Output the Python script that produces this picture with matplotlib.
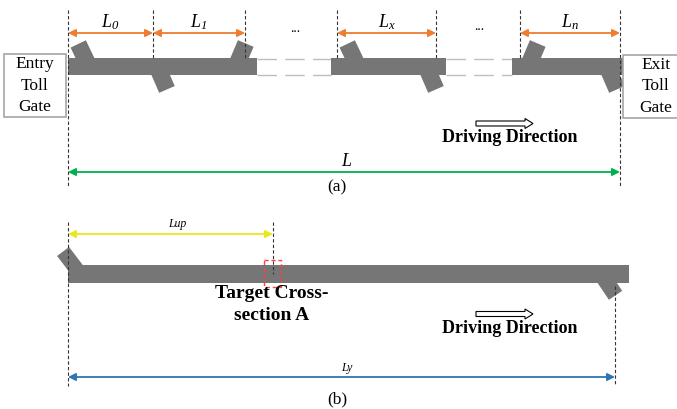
import numpy as np
import matplotlib.pyplot as plt
from matplotlib.patches import Rectangle, Polygon, FancyArrow

plt.rcParams['font.family'] = 'Liberation Serif'
plt.rcParams['mathtext.fontset'] = 'custom'
plt.rcParams['mathtext.it'] = 'Liberation Serif:italic'
plt.rcParams['mathtext.rm'] = 'Liberation Serif:italic'

ROAD = '#767676'

# panel (a): section boundaries and labels
bounds_a = [68, 153, 245, 337, 436, 520, 620]
sections_a = [(0, 1, r'$L_{0}$'), (1, 2, r'$L_{1}$'),
              (3, 4, r'$L_{x}$'), (5, 6, r'$L_{n}$')]
road_pieces_a = [(68, 257), (331, 446), (512, 624)]
gaps_a = [(257, 331), (446, 512)]
# ramps: (base x, kind)  A = on-ramp upper-left, B = lower-right, C = upper-right
ramps_a = [(89, 'A'), (157, 'B'), (236, 'C'), (358, 'A'), (426, 'B'), (528, 'C'), (607, 'B')]

# panel (b)
x_start_b, x_target_b, x_end_b = 68, 273, 615
road_b = (68, 629)

ramp_dirs = {'A': (-0.43, -0.90), 'B': (0.40, 0.92), 'C': (0.39, -0.92),
             'L': (-0.60, -0.79), 'R': (0.56, 0.83)}


def draw_ramp(ax, x, yc, kind, length=25, w=17):
    d = np.array(ramp_dirs[kind])
    d = d / np.linalg.norm(d)
    n = np.array([-d[1], d[0]])
    b = np.array([x, yc])
    t = b + d * length
    pts = [b + n * w / 2, t + n * w / 2, t - n * w / 2, b - n * w / 2]
    ax.add_patch(Polygon(pts, closed=True, fc=ROAD, ec='none', zorder=2))


def dim_arrow(ax, x0, x1, y, color, lw=1.3, ms=11):
    ax.annotate('', xy=(x1, y), xytext=(x0, y),
                arrowprops=dict(arrowstyle='<|-|>', color=color, lw=lw,
                                mutation_scale=ms, shrinkA=0, shrinkB=0), zorder=4)


def vline(ax, x, y0, y1):
    ax.plot([x, x], [y0, y1], color='#333333', lw=0.8, ls=(0, (3, 2)), zorder=5)


def hollow_arrow(ax, x, y):
    ax.add_patch(FancyArrow(x, y, 57, 0, width=5, head_width=10, head_length=8,
                            length_includes_head=True, fc='white', ec='black', lw=0.8, zorder=4))


fig = plt.figure(figsize=(6.77, 4.09), dpi=100)
ax = fig.add_axes([0, 0, 1, 1])
ax.set_xlim(0, 677)
ax.set_ylim(409, 0)
ax.axis('off')

# ---------- panel (a) ----------
ya_top, ya_bot = 58, 75
yc_a = (ya_top + ya_bot) / 2
for x0, x1 in road_pieces_a:
    ax.add_patch(Rectangle((x0, ya_top), x1 - x0, ya_bot - ya_top, fc=ROAD, ec='none', zorder=3))
for x0, x1 in gaps_a:
    for yy in (ya_top + 0.5, ya_bot - 0.5):
        ax.plot([x0, x1], [yy, yy], color='#BDBDBD', lw=1, ls=(0, (14, 6)), zorder=2)
for x, kind in ramps_a:
    draw_ramp(ax, x, yc_a, kind)

for i, x in enumerate(bounds_a):
    if i in (0, len(bounds_a) - 1):
        vline(ax, x, 10, 186)
    else:
        vline(ax, x, 10, ya_top)

for i0, i1, lab in sections_a:
    dim_arrow(ax, bounds_a[i0], bounds_a[i1], 33, '#ED7D31')
    ax.text((bounds_a[i0] + bounds_a[i1]) / 2, 22, lab, fontsize=13, ha='center', va='center')
ax.text(295, 29, '...', fontsize=10, ha='center', va='center')
ax.text(479, 27, '...', fontsize=10, ha='center', va='center')

dim_arrow(ax, bounds_a[0], bounds_a[-1], 172, '#00B050')
ax.text(346, 162, 'L', fontsize=13, style='italic', ha='center', va='center')

ax.add_patch(Rectangle((4, 54), 62, 63, fc='white', ec='#A6A6A6', lw=1.2, zorder=6))
ax.text(35, 85.5, 'Entry\nToll\nGate', fontsize=12.5, ha='center', va='center',
        linespacing=1.45, zorder=7)
ax.add_patch(Rectangle((623, 55), 60, 63, fc='white', ec='#A6A6A6', lw=1.2, zorder=6))
ax.text(656, 86.5, 'Exit\nToll\nGate', fontsize=12.5, ha='center', va='center',
        linespacing=1.45, zorder=7)

hollow_arrow(ax, 476, 123.5)
ax.text(510, 138, 'Driving Direction', fontsize=13, weight='bold', ha='center', va='center')
ax.text(337, 187, '(a)', fontsize=12.5, ha='center', va='center')

# ---------- panel (b) ----------
yb_top, yb_bot = 265, 282.5
yc_b = (yb_top + yb_bot) / 2
ax.add_patch(Rectangle((road_b[0], yb_top), road_b[1] - road_b[0], yb_bot - yb_top,
                       fc=ROAD, ec='none', zorder=3))
draw_ramp(ax, 80, yc_b, 'L', length=28, w=15)
draw_ramp(ax, 601, yc_b, 'R', length=26, w=16)

vline(ax, x_start_b, 222, 386)
vline(ax, x_target_b, 222, 274)
vline(ax, x_end_b, 286, 386)

ax.add_patch(Rectangle((264, 260), 17, 27, fc='none', ec='#FF4040', lw=1,
                       ls=(0, (3, 2)), zorder=6))

dim_arrow(ax, x_start_b, x_target_b, 234, '#E8E820')
ax.text(177, 224, 'Lup', fontsize=8.5, style='italic', ha='center', va='center')
dim_arrow(ax, x_start_b, x_end_b, 377, '#2E75B6')
ax.text(347, 368, 'Ly', fontsize=8.5, style='italic', ha='center', va='center')

ax.text(272, 304.5, 'Target Cross-\nsection A', fontsize=14, weight='bold',
        ha='center', va='center', linespacing=1.4, zorder=7)

hollow_arrow(ax, 476, 314)
ax.text(510, 328.5, 'Driving Direction', fontsize=13, weight='bold', ha='center', va='center')
ax.text(337, 399, '(b)', fontsize=12.5, ha='center', va='center')

fig.savefig('out.png', dpi=100)
